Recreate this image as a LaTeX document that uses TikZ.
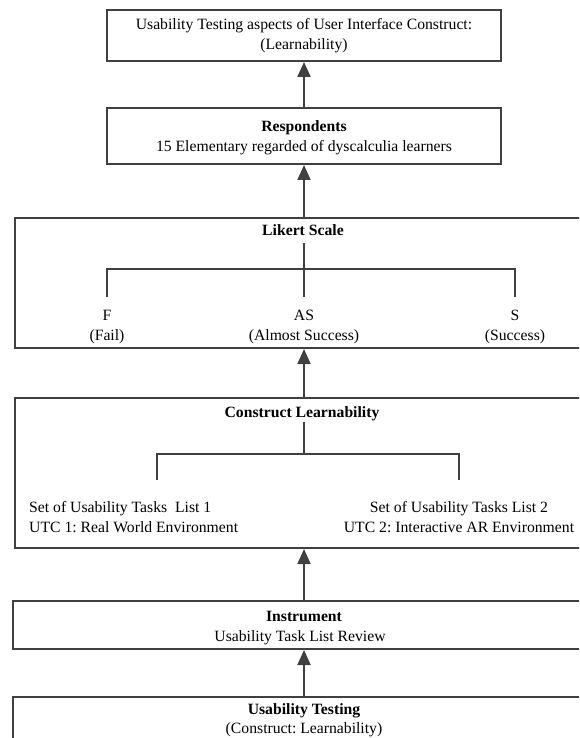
\documentclass[tikz,border=0pt]{standalone}
\usepackage{fontspec}
\setmainfont{Liberation Serif}
\usetikzlibrary{arrows.meta}
\definecolor{linegray}{HTML}{404040}
\frenchspacing
\begin{document}
\begin{tikzpicture}[x=1pt,y=-1pt,
  box/.style={draw=linegray,line width=2pt,rectangle,inner sep=0pt},
  txt/.style={anchor=base,inner sep=0pt,font=\fontsize{15.7}{20}\selectfont},
  txtl/.style={txt,anchor=base west},
  bold/.style={txt,font=\fontsize{15.7}{20}\selectfont\bfseries},
  arr/.style={draw=linegray,line width=2pt,-{Triangle[width=13pt,length=15pt]}},
  brk/.style={draw=linegray,line width=2pt}]
\useasboundingbox (0,0) rectangle (579,738);
\clip (0,0) rectangle (579,738);
% boxes
\node[box,minimum width=394pt,minimum height=51pt] (b1) at (304,35.5) {};
\node[box,minimum width=394pt,minimum height=56pt] (b2) at (304,136) {};
\node[box,minimum width=578pt,minimum height=130pt] (b3) at (304,283) {};
\node[box,minimum width=578pt,minimum height=150pt] (b4) at (304,473) {};
\node[box,minimum width=582pt,minimum height=48pt] (b5) at (304,625) {};
\node[box,minimum width=582pt,minimum height=90pt] (b6) at (304,742) {};
% arrows
\draw[arr] (b2.north) -- (b1.south);
\draw[arr] (b3.north) -- (b2.south);
\draw[arr] (b4.north) -- (b3.south);
\draw[arr] (b5.north) -- (b4.south);
\draw[arr] (b6.north) -- (b5.south);
% box 1 text
\node[txt] (t1a) at (304,30) {Usability Testing aspects of User Interface Construct:};
\node[txt] (t1b) at (304,50) {(Learnability)};
% box 2 text
\node[bold] (t2a) at (304,132) {Respondents};
\node[txt] (t2b) at (304,152) {15 Elementary regarded of dyscalculia learners};
% box 3
\node[bold] (t3) at (303,235) {Likert Scale};
\node[txt] (f1) at (107,320) {F};
\node[txt] (f2) at (107,340) {(Fail)};
\node[txt] (as1) at (304,320) {AS};
\node[txt] (as2) at (304,340) {(Almost Success)};
\node[txt] (s1) at (515,320) {S};
\node[txt] (s2) at (515,340) {(Success)};
\coordinate (lc0) at (304,243);
\coordinate (lcb) at (304,297);
\coordinate (ll) at (107,297);
\coordinate (lr) at (515,297);
\coordinate (lh) at (304,269);
\draw[brk] (lc0) -- (lcb);
\draw[brk] (ll) -- (ll |- lh) -- (lr |- lh) -- (lr);
% box 4
\node[bold] (t4) at (302,417.5) {Construct Learnability};
\node[txtl] (u1a) at (29,512.5) {Set of Usability Tasks~~List 1};
\node[txtl] (u1b) at (29,532) {UTC 1: Real World Environment};
\node[txt] (u2a) at (459,512.5) {Set of Usability Tasks List 2};
\node[txt] (u2b) at (459,532) {UTC 2: Interactive AR Environment};
\coordinate (cc0) at (304,422);
\coordinate (ch) at (304,454);
\coordinate (cl) at (157,480);
\coordinate (cr) at (459,480);
\draw[brk] (cc0) -- (ch);
\draw[brk] (cl) -- (cl |- ch) -- (cr |- ch) -- (cr);
% box 5
\node[bold] (t5a) at (304,621) {Instrument};
\node[txt] (t5b) at (300,641) {Usability Task List Review};
% box 6
\node[bold] (t6a) at (304,714) {Usability Testing};
\node[txt] (t6b) at (304,733) {(Construct: Learnability)};
\end{tikzpicture}
\end{document}
